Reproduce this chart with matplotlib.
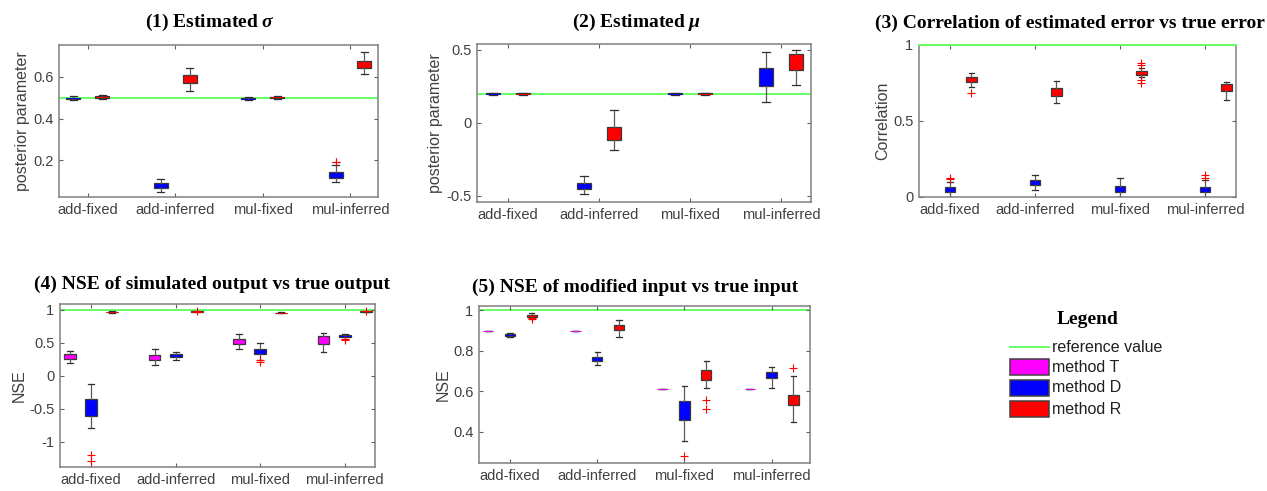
import numpy as np
import matplotlib
matplotlib.use("Agg")
import matplotlib.pyplot as plt
from matplotlib.patches import Rectangle
from matplotlib.lines import Line2D

plt.rcParams["font.family"] = ["Liberation Sans", "DejaVu Sans"]
plt.rcParams["axes.unicode_minus"] = False
plt.rcParams["mathtext.fontset"] = "custom"
plt.rcParams["mathtext.it"] = "Liberation Serif:italic:bold"
plt.rcParams["mathtext.rm"] = "Liberation Serif:bold"

groups = ["add-fixed", "add-inferred", "mul-fixed", "mul-inferred"]

# each box: (whisker low, q1, median, q3, whisker high), one per group
# (1) estimated sigma
sigma_D = [(0.490, 0.495, 0.497, 0.499, 0.508), (0.047, 0.064, 0.075, 0.088, 0.107),
           (0.490, 0.494, 0.496, 0.498, 0.503), (0.095, 0.112, 0.128, 0.144, 0.176)]
sigma_D_out = [[], [], [], [0.189, 0.192]]
sigma_R = [(0.494, 0.500, 0.503, 0.506, 0.511), (0.534, 0.570, 0.585, 0.610, 0.642),
           (0.494, 0.499, 0.502, 0.505, 0.509), (0.614, 0.642, 0.660, 0.677, 0.722)]
sigma_R_out = [[], [], [], []]
sigma_ref = 0.5

# (2) estimated mu
mu_D = [(0.193, 0.197, 0.200, 0.203, 0.207), (-0.488, -0.454, -0.435, -0.412, -0.367),
        (0.193, 0.197, 0.200, 0.203, 0.207), (0.141, 0.256, 0.300, 0.378, 0.488)]
mu_D_out = [[], [], [], []]
mu_R = [(0.193, 0.197, 0.200, 0.203, 0.207), (-0.183, -0.115, -0.070, -0.030, 0.085),
        (0.193, 0.197, 0.200, 0.203, 0.207), (0.263, 0.361, 0.420, 0.469, 0.499)]
mu_R_out = [[], [], [], []]
mu_ref = 0.2

# (3) correlation of estimated error vs true error
corr_D = [(0.000, 0.033, 0.050, 0.066, 0.099), (0.044, 0.077, 0.095, 0.110, 0.143),
          (0.000, 0.033, 0.055, 0.070, 0.125), (0.000, 0.033, 0.050, 0.066, 0.110)]
corr_D_out = [[0.116, 0.122], [], [], [0.127, 0.143]]
corr_R = [(0.725, 0.754, 0.775, 0.787, 0.818), (0.620, 0.666, 0.695, 0.714, 0.765),
          (0.787, 0.804, 0.820, 0.830, 0.846), (0.637, 0.700, 0.720, 0.743, 0.758)]
corr_R_out = [[0.686], [], [0.752, 0.770, 0.868, 0.884], []]
corr_ref = 1.0

# (4) NSE of simulated output vs true output
nseo_T = [(0.196, 0.257, 0.290, 0.327, 0.373), (0.171, 0.247, 0.280, 0.322, 0.403),
          (0.413, 0.479, 0.530, 0.564, 0.630), (0.363, 0.489, 0.550, 0.600, 0.655)]
nseo_T_out = [[], [], [], []]
nseo_D = [(-0.800, -0.605, -0.500, -0.353, -0.120), (0.247, 0.287, 0.305, 0.327, 0.363),
          (0.247, 0.338, 0.375, 0.413, 0.499), (0.564, 0.590, 0.600, 0.615, 0.630)]
nseo_D_out = [[-1.29, -1.20], [], [0.210, 0.237], [0.540, 0.565]]
nseo_R = [(0.955, 0.962, 0.967, 0.972, 0.978), (0.962, 0.968, 0.975, 0.980, 0.985),
          (0.950, 0.954, 0.957, 0.960, 0.964), (0.962, 0.970, 0.977, 0.982, 0.986)]
nseo_R_out = [[], [0.980], [], [0.978]]
nseo_ref = 1.0

# (5) NSE of modified input vs true input
nsei_T = [(0.900, 0.900, 0.900, 0.900, 0.900), (0.900, 0.900, 0.900, 0.900, 0.900),
          (0.611, 0.611, 0.611, 0.611, 0.611), (0.611, 0.611, 0.611, 0.611, 0.611)]
nsei_T_out = [[], [], [], []]
nsei_D = [(0.870, 0.875, 0.879, 0.883, 0.888), (0.731, 0.752, 0.762, 0.772, 0.792),
          (0.354, 0.461, 0.500, 0.551, 0.628), (0.616, 0.666, 0.680, 0.698, 0.720)]
nsei_D_out = [[], [], [0.280], []]
nsei_R = [(0.958, 0.966, 0.970, 0.977, 0.985), (0.867, 0.903, 0.915, 0.928, 0.952),
          (0.616, 0.657, 0.680, 0.707, 0.748), (0.449, 0.531, 0.555, 0.584, 0.674)]
nsei_R_out = [[0.955, 0.962], [], [0.515, 0.559], [0.715]]
nsei_ref = 1.0

COLORS = {"T": "#ff00ff", "D": "#0000ff", "R": "#ff0000"}
GREEN = "#66ff66"
W, H = 1267, 491


def px_axes(fig, x0, y0, x1, y1):
    """Axes from pixel box (top-left origin)."""
    return fig.add_axes([x0 / W, 1 - y1 / H, (x1 - x0) / W, (y1 - y0) / H])


def draw_boxes(ax, series, offsets, width):
    for name, stats, outs in series:
        bstats = [dict(whislo=lo, q1=q1, med=med, q3=q3, whishi=hi, fliers=fl)
                  for (lo, q1, med, q3, hi), fl in zip(stats, outs)]
        edge = "#707070" if stats[0][1] == stats[0][3] else "#383838"
        ax.bxp(bstats, positions=np.arange(1, 5) + offsets[name], widths=width,
               patch_artist=True, manage_ticks=False, capwidths=width * 0.5,
               boxprops=dict(facecolor=COLORS[name], edgecolor=edge, linewidth=0.9),
               medianprops=dict(color=COLORS[name], linewidth=0.6),
               whiskerprops=dict(color="#5a5a5a", linewidth=0.9),
               capprops=dict(color="#303030", linewidth=0.9),
               flierprops=dict(marker="+", markeredgecolor="red", markersize=6,
                               markeredgewidth=0.8, linestyle="none"))


def style_axes(ax, xlim, ylim, yticks, ylabel, ref, ref_top=False):
    ax.axhline(ref, color=GREEN, linewidth=1.4, zorder=3 if ref_top else 1.5,
               clip_on=not ref_top)
    ax.set_xlim(*xlim)
    ax.set_ylim(*ylim)
    ax.set_xticks(range(1, 5))
    ax.set_xticklabels(groups, fontsize=10.5, color="#404040")
    ax.set_yticks(yticks)
    ax.set_yticklabels([f"{t:g}" for t in yticks], fontsize=10.5, color="#404040")
    ax.set_ylabel(ylabel, fontsize=11.5, color="#404040", labelpad=2)
    ax.tick_params(direction="in", top=True, right=True, length=3, width=0.8,
                   color="#606060", pad=4)
    for sp in ax.spines.values():
        sp.set_color("#808080")
        sp.set_linewidth(1.1)


fig = plt.figure(figsize=(W / 100, H / 100), dpi=100)

ax1 = px_axes(fig, 59, 45, 378, 197)
draw_boxes(ax1, [("D", sigma_D, sigma_D_out), ("R", sigma_R, sigma_R_out)],
           {"D": -0.165, "R": 0.165}, 0.16)
style_axes(ax1, (0.67, 4.32), (0.022, 0.754), [0.2, 0.4, 0.6],
           "posterior parameter", sigma_ref)

ax2 = px_axes(fig, 477, 44, 811, 202)
draw_boxes(ax2, [("D", mu_D, mu_D_out), ("R", mu_R, mu_R_out)],
           {"D": -0.165, "R": 0.165}, 0.16)
style_axes(ax2, (0.66, 4.33), (-0.543, 0.541), [-0.5, 0, 0.5],
           "posterior parameter", mu_ref)

ax3 = px_axes(fig, 919, 45, 1236, 197)
draw_boxes(ax3, [("D", corr_D, corr_D_out), ("R", corr_R, corr_R_out)],
           {"D": 0.0, "R": 0.25}, 0.125)
style_axes(ax3, (0.635, 4.365), (0.0, 1.0), [0, 0.5, 1],
           "Correlation", corr_ref, ref_top=True)

ax4 = px_axes(fig, 60, 304, 375, 467)
draw_boxes(ax4, [("T", nseo_T, nseo_T_out), ("D", nseo_D, nseo_D_out),
                 ("R", nseo_R, nseo_R_out)],
           {"T": -0.25, "D": 0.0, "R": 0.25}, 0.14)
style_axes(ax4, (0.63, 4.36), (-1.385, 1.09), [-1, -0.5, 0, 0.5, 1],
           "NSE", nseo_ref)

ax5 = px_axes(fig, 479, 306, 810, 463)
draw_boxes(ax5, [("T", nsei_T, nsei_T_out), ("D", nsei_D, nsei_D_out),
                 ("R", nsei_R, nsei_R_out)],
           {"T": -0.25, "D": 0.0, "R": 0.25}, 0.12)
style_axes(ax5, (0.645, 4.44), (0.247, 1.021), [0.4, 0.6, 0.8, 1],
           "NSE", nsei_ref)

# overlay in pixel coordinates for titles and legend
lax = fig.add_axes([0, 0, 1, 1], zorder=-1)
lax.set_xlim(0, W)
lax.set_ylim(H, 0)
lax.axis("off")

title_kw = dict(fontsize=14, fontweight="bold", family="Liberation Serif",
                ha="center", va="center", color="black")
lax.text(210, 22, r"(1) Estimated $\sigma$", **title_kw)
lax.text(637, 22, r"(2) Estimated $\mu$", **title_kw)
lax.text(1070, 23, "(3) Correlation of estimated error vs true error", **title_kw)
lax.text(212, 284, "(4) NSE of simulated output vs true output", **title_kw)
lax.text(635, 287, "(5) NSE of modified input vs true input", **title_kw)

# legend
lax.text(1088, 319, "Legend", **title_kw)
lax.add_line(Line2D([1010, 1049], [347, 347], color=GREEN, linewidth=1.4))
lax.text(1052, 347, "reference value", fontsize=11.5, va="center", color="#202020")
for yc, name, label in [(367, "T", "method T"), (388, "D", "method D"),
                        (409, "R", "method R")]:
    lax.add_patch(Rectangle((1010, yc - 8), 39, 16, facecolor=COLORS[name],
                            edgecolor="#404040", linewidth=1.1))
    lax.text(1052, yc, label, fontsize=11.5, va="center", color="#202020")

fig.savefig("out.png", dpi=100)
